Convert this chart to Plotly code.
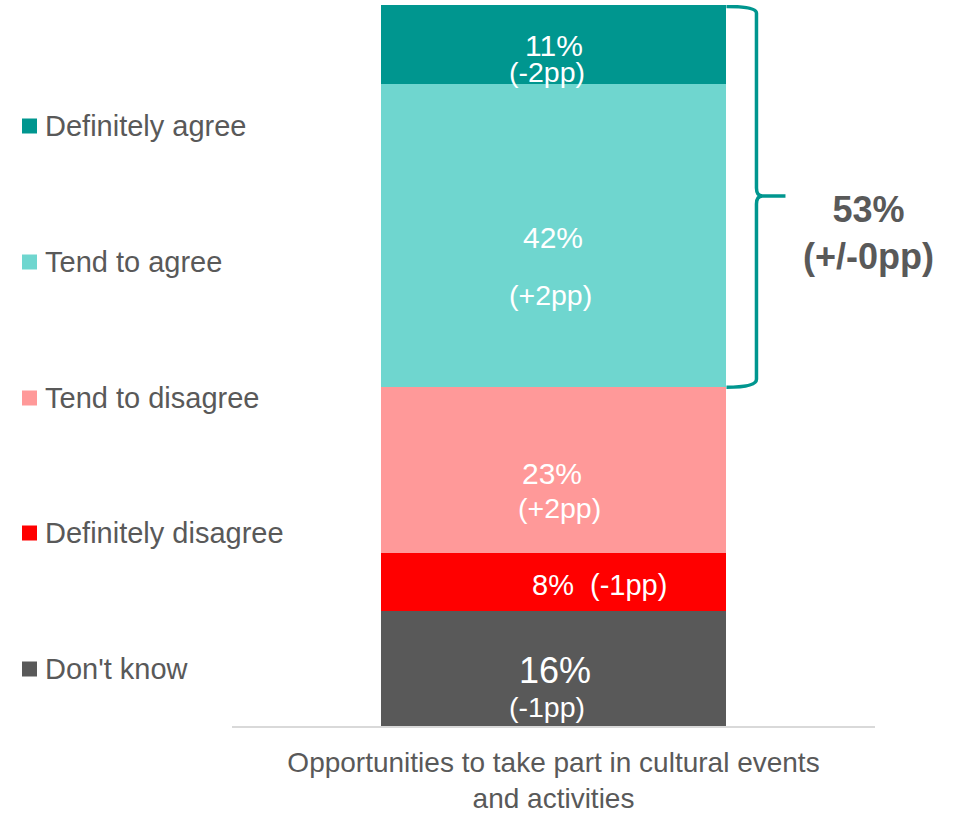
import plotly.graph_objects as go

# ---------------- data ----------------
category = "Opportunities to take part in cultural events<br>and activities"
series = ["Definitely agree", "Tend to agree", "Tend to disagree", "Definitely disagree", "Don't know"]
values = [11, 42, 23, 8, 16]
changes = ["(-2pp)", "(+2pp)", "(+2pp)", "(-1pp)", "(-1pp)"]
net_label = ["53%", "(+/-0pp)"]
net_series = ["Definitely agree", "Tend to agree"]

# ---------------- style ----------------
colors = {
    "Definitely agree": "#00968F",
    "Tend to agree": "#6FD6CF",
    "Tend to disagree": "#FF9999",
    "Definitely disagree": "#FF0000",
    "Don't know": "#595959",
}
FONT = "Liberation Sans, Arial, sans-serif"
GREY = "#595959"
W, H = 953, 814
ML, MR, MT, MB = 232, 78, 5, 88
PW, PH = W - ML - MR, H - MT - MB
BAR_W = 0.538

# label placement tweaks (pixels): (pct dx, pct dy, chg dx, chg dy) relative to segment middle
label_pos = {
    "Definitely agree": (0, 1, -7, 27),
    "Tend to agree": (-1, 2, -3, 59),
    "Tend to disagree": (-2, 3, 6, 38),
    "Definitely disagree": (46, 3, None, None),
    "Don't know": (1, 2, -7, 39),
}
pct_size = {"Don't know": 36}

fig = go.Figure()
# stack bottom to top
order = list(reversed(range(len(series))))
for i in order:
    fig.add_trace(go.Bar(
        x=[category], y=[values[i]], name=series[i],
        marker=dict(color=colors[series[i]], line=dict(width=0)),
        width=BAR_W, showlegend=False, hoverinfo="name+y",
    ))

ppy = PH / 100.0
annotations = []
shapes = []
cum = 0
for i in order:
    s = series[i]
    mid = cum + values[i] / 2.0
    cum += values[i]
    pdx, pdy, cdx, cdy = label_pos[s]
    if cdx is None:
        annotations.append(dict(
            x=category, y=mid, xref="x", yref="y", showarrow=False,
            text=f"{values[i]}%\u00a0\u00a0{changes[i]}",
            font=dict(family=FONT, size=29, color="white"),
            xshift=pdx, yshift=-pdy, xanchor="center", yanchor="middle"))
    else:
        annotations.append(dict(
            x=category, y=mid, xref="x", yref="y", showarrow=False,
            text=f"{values[i]}%",
            font=dict(family=FONT, size=pct_size.get(s, 30), color="white"),
            xshift=pdx, yshift=-pdy, xanchor="center", yanchor="middle"))
        annotations.append(dict(
            x=category, y=mid, xref="x", yref="y", showarrow=False,
            text=changes[i],
            font=dict(family=FONT, size=28.5, color="white"),
            xshift=cdx, yshift=-cdy, xanchor="center", yanchor="middle"))

# ---------------- custom legend (left) ----------------
leg_y = [126, 262, 398, 533, 669]
for s, py in zip(series, leg_y):
    yp = (H - MB - py) / PH
    half = 7.5 / PH
    shapes.append(dict(type="rect", xref="paper", yref="paper",
                       x0=(22 - ML) / PW, x1=(37 - ML) / PW, y0=yp - half, y1=yp + half,
                       fillcolor=colors[s], line=dict(width=0)))
    annotations.append(dict(x=(43 - ML) / PW, y=yp, xref="paper", yref="paper",
                            text=s, showarrow=False, xanchor="left", yanchor="middle",
                            font=dict(family=FONT, size=29, color=GREY)))

# ---------------- brace for net agree ----------------
ybot = sum(values[series.index(s)] for s in series if s not in net_series)
ytop = sum(values)
ymid = (ybot + ytop) / 2.0
x0 = BAR_W / 2.0
xv = x0 + 30 / PW
xp = x0 + 59 / PW
dy = 8 / ppy
dx = 6 / PW
path = (f"M{x0},{ytop - 0.2} Q{xv},{ytop - 0.2} {xv},{ytop - dy} "
        f"L{xv},{ymid + dy} Q{xv},{ymid} {xv + dx},{ymid} L{xp},{ymid} "
        f"M{xv + dx},{ymid} Q{xv},{ymid} {xv},{ymid - dy} "
        f"L{xv},{ybot + dy} Q{xv},{ybot} {x0},{ybot}")
shapes.append(dict(type="path", xref="x", yref="y", path=path,
                   line=dict(color="#00968F", width=3.5)))

annotations.append(dict(x=(868 - ML) / PW, y=(H - MB - 233) / PH, xref="paper", yref="paper",
                        text=f"<b>{net_label[0]}</b><br><b>{net_label[1]}</b>", showarrow=False,
                        xanchor="center", yanchor="middle",
                        font=dict(family=FONT, size=36, color=GREY)))

fig.update_layout(
    width=W, height=H,
    margin=dict(l=ML, r=MR, t=MT, b=MB, autoexpand=False),
    paper_bgcolor="white", plot_bgcolor="white",
    barmode="stack", bargap=0,
    showlegend=False,
    annotations=annotations, shapes=shapes,
    font=dict(family=FONT, color=GREY),
)
fig.update_xaxes(type="category", range=[-0.5, 0.5], showline=True, linecolor="#D9D9D9",
                 linewidth=2, ticks="", showgrid=False, zeroline=False, automargin=False,
                 tickfont=dict(family=FONT, size=28, color=GREY), ticklabelstandoff=10)
fig.update_yaxes(range=[0, 100], visible=False, showgrid=False, zeroline=False, automargin=False)

fig.write_html("out.html", config={"displayModeBar": False},
               post_script="document.body.style.margin='0';document.body.style.overflow='hidden';")
